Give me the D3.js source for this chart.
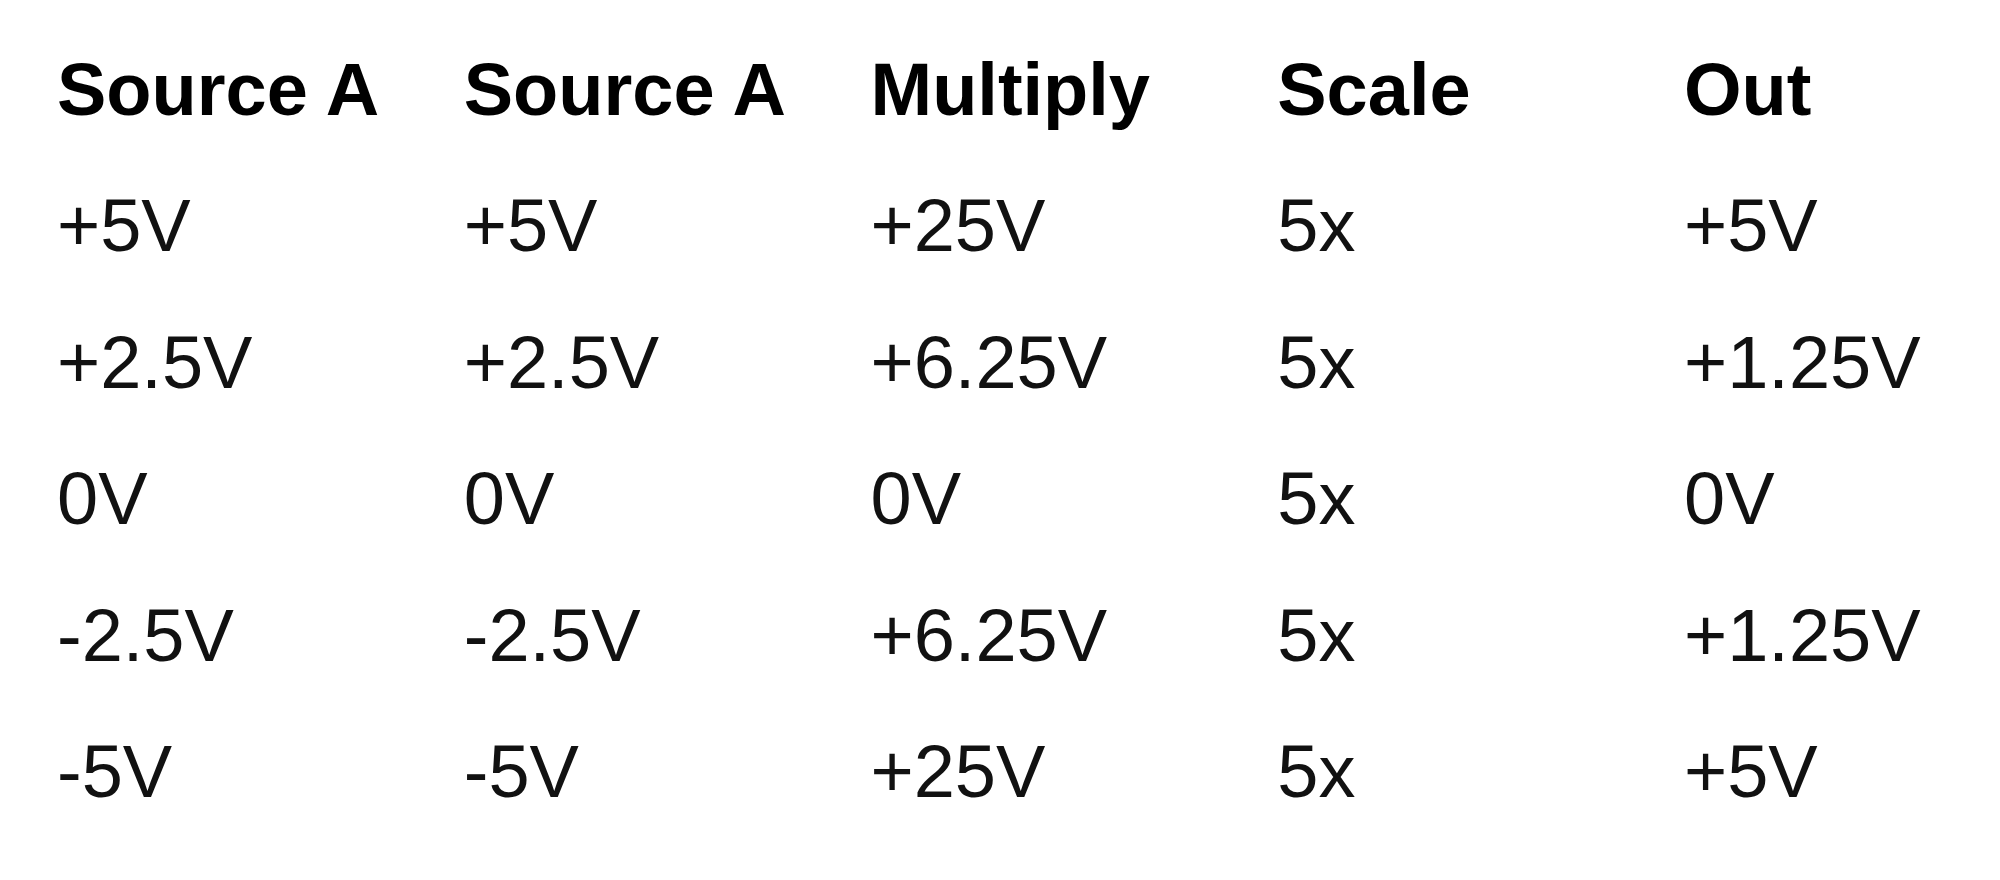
<!DOCTYPE html>
<html><head><meta charset="utf-8">
<script src="https://cdn.jsdelivr.net/npm/d3@7"></script>
<style>html,body{margin:0;background:#fff}</style></head>
<body><svg id="c" width="2000" height="880"></svg>
<script>
const headers = ["Source A","Source A","Multiply","Scale","Out"];
const sourceA1 = ["+5V","+2.5V","0V","-2.5V","-5V"];
const sourceA2 = ["+5V","+2.5V","0V","-2.5V","-5V"];
const multiply = ["+25V","+6.25V","0V","+6.25V","+25V"];
const scale = ["5x","5x","5x","5x","5x"];
const out = ["+5V","+1.25V","0V","+1.25V","+5V"];
const columns = [sourceA1, sourceA2, multiply, scale, out];

const svg = d3.select("#c");
const x = d3.scalePoint().domain(d3.range(headers.length)).range([57, 1684]);
const y = d3.scalePoint().domain(d3.range(sourceA1.length + 1)).range([115, 797]);

svg.selectAll("text.h").data(headers).join("text").attr("class","h")
  .attr("x",(d,i)=>x(i)).attr("y",y(0))
  .attr("font-family","'Liberation Sans', Arial, sans-serif").attr("font-weight","bold")
  .attr("font-size",74).attr("fill","#000").text(d=>d);

columns.forEach((col,ci)=>{
  svg.selectAll("text.c"+ci).data(col).join("text").attr("class","c"+ci)
    .attr("x",x(ci)).attr("y",(d,ri)=>y(ri+1))
    .attr("font-family","'Liberation Sans', Arial, sans-serif")
    .attr("font-size",74).attr("fill","#111").text(d=>d);
});
</script></body></html>
